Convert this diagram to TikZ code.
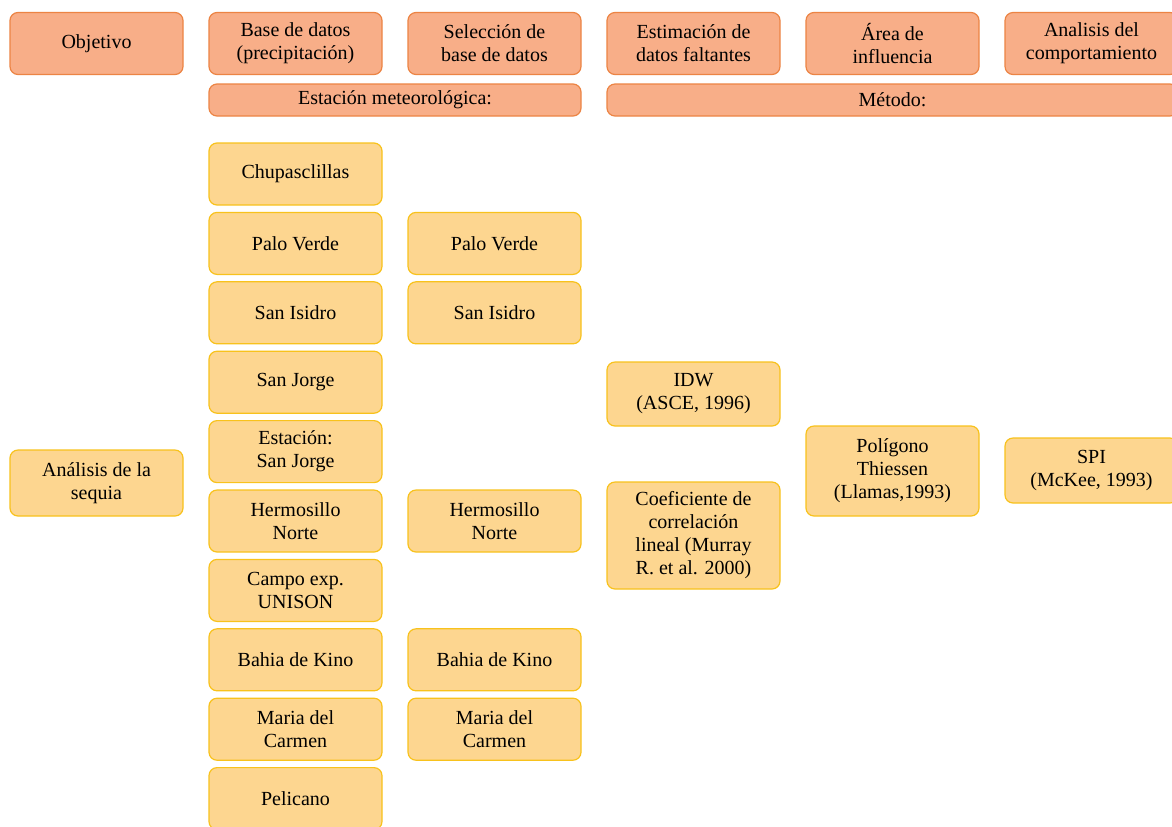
\documentclass[tikz,border=0pt]{standalone}
\usepackage{fontspec}
\setmainfont{Liberation Serif}
\usepackage{tikz}

\definecolor{naranjaFondo}{HTML}{F8AE88}
\definecolor{naranjaBorde}{HTML}{EC8444}
\definecolor{amarilloFondo}{HTML}{FDD690}
\definecolor{amarilloBorde}{HTML}{F8C21C}

\tikzset{
    caja/.style={rounded corners=4pt, line width=0.6pt, align=center,
        minimum width=86.5pt, minimum height=31pt, inner sep=1pt,
        font=\fontsize{10}{11.5}\selectfont},
    titulo/.style={caja, fill=naranjaFondo, draw=naranjaBorde},
    franja/.style={titulo, minimum height=16pt},
    dato/.style={caja, fill=amarilloFondo, draw=amarilloBorde}
}

\begin{document}
\begin{tikzpicture}[x=0.5pt, y=-0.5pt]
    % marco de la figura
    \clip (0, 0) rectangle (1172, 826);
    \fill[white] (0, 0) rectangle (1172, 826);

    % fila de encabezados
    \node[titulo] (obj) at (96.5, 43.5) {Objetivo};
    \node[titulo] (base) at (295.5, 43.5) {Base de datos\\(precipitación)};
    \node[titulo] (sel) at (494.5, 43.5) {Selección de\\base de datos};
    \node[titulo] (estim) at (693.5, 43.5) {Estimación de\\datos faltantes};
    \node[titulo] (area) at (892.5, 43.5) {Área de\\influencia};
    \node[titulo] (comp) at (1091.5, 43.5) {Analisis del\\comportamiento};

    % franjas de subtitulo
    \node[franja, minimum width=186pt] (estmet) at (395, 100) {Estación meteorológica:};
    \node[franja, minimum width=285.5pt] (metodo) at (892.5, 100) {Método:};

    % objetivo
    \node[dato, minimum height=33pt] (sequia) at (96.5, 483) {Análisis de la\\sequia};

    % estaciones (base de datos)
    \foreach \i/\txt in {0/Chupasclillas, 1/Palo Verde, 2/San Isidro, 3/San Jorge,
        4/{Estación:\\San Jorge}, 5/{Hermosillo\\Norte}, 6/{Campo exp.\\UNISON},
        7/Bahia de Kino, 8/{Maria del\\Carmen}, 9/Pelicano} {
        \node[dato] (est\i) at (295.5, 174 + 69.4*\i) {\txt};
    }

    % estaciones seleccionadas
    \foreach \i/\txt in {1/Palo Verde, 2/San Isidro, 5/{Hermosillo\\Norte},
        7/Bahia de Kino, 8/{Maria del\\Carmen}} {
        \node[dato] (sel\i) at (494.5, 174 + 69.4*\i) {\txt};
    }

    % metodos
    \node[dato, minimum height=32pt] (idw) at (693.5, 394) {IDW\\(ASCE, 1996)};
    \node[dato, minimum height=53.5pt] (coef) at (693.5, 535.5) {Coeficiente de\\correlación\\lineal (Murray\\R. et al. 2000)};
    \node[dato, minimum height=45pt] (thiessen) at (892.5, 471) {Polígono\\Thiessen\\(Llamas,1993)};
    \node[dato, minimum height=32.5pt] (spi) at (1091.5, 470.5) {SPI\\(McKee, 1993)};
\end{tikzpicture}
\end{document}
